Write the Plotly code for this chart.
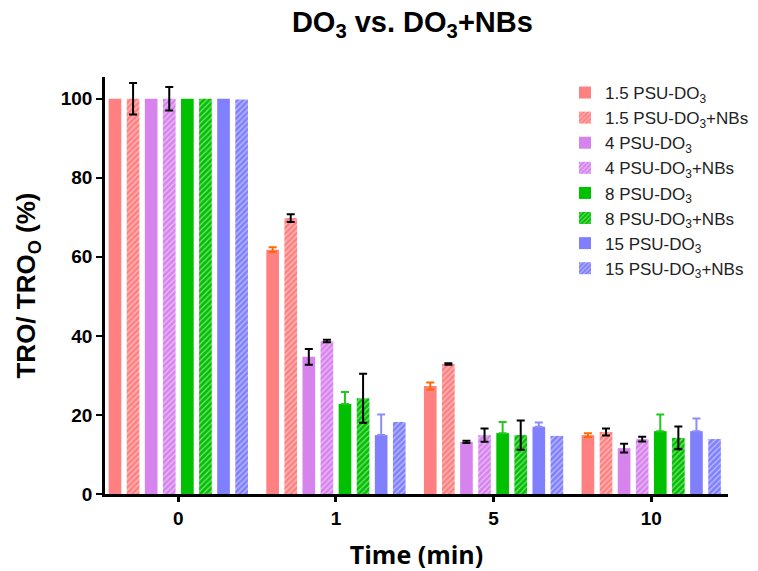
import numpy as np
import plotly.graph_objects as go

times = ["0", "1", "5", "10"]
x_pos = [0, 1, 2, 3]

names = [
    "1.5 PSU-DO<sub>3</sub>", "1.5 PSU-DO<sub>3</sub>+NBs",
    "4 PSU-DO<sub>3</sub>", "4 PSU-DO<sub>3</sub>+NBs",
    "8 PSU-DO<sub>3</sub>", "8 PSU-DO<sub>3</sub>+NBs",
    "15 PSU-DO<sub>3</sub>", "15 PSU-DO<sub>3</sub>+NBs",
]

# None = no error bar shown
psu15_do3 = [100, 61.8, 27.3, 14.9]
psu15_do3_err = [None, 0.6, 0.9, 0.5]
psu15_nbs = [100, 69.8, 32.9, 15.7]
psu15_nbs_err = [4.0, 1.0, 0.2, 0.9]

psu4_do3 = [100, 34.7, 13.2, 11.6]
psu4_do3_err = [None, 2.0, 0.3, 1.1]
psu4_nbs = [100, 38.7, 14.9, 13.9]
psu4_nbs_err = [3.0, 0.3, 1.7, 0.6]

psu8_do3 = [100, 22.8, 15.4, 15.9]
psu8_do3_err = [None, 3.0, 2.8, 4.2]
psu8_nbs = [100, 24.2, 14.9, 14.2]
psu8_nbs_err = [None, 6.2, 3.7, 2.9]

psu15b_do3 = [100, 14.9, 17.0, 15.9]
psu15b_do3_err = [None, 5.2, 1.1, 3.2]
psu15b_nbs = [99.8, 18.2, 14.7, 13.9]
psu15b_nbs_err = [None, None, None, None]

values = [psu15_do3, psu15_nbs, psu4_do3, psu4_nbs, psu8_do3, psu8_nbs, psu15b_do3, psu15b_nbs]
errors = [psu15_do3_err, psu15_nbs_err, psu4_do3_err, psu4_nbs_err,
          psu8_do3_err, psu8_nbs_err, psu15b_do3_err, psu15b_nbs_err]
colors = ["#FF8080", "#FF8080", "#D783EE", "#D783EE", "#00C000", "#00C000", "#8080FF", "#8080FF"]
hatched = [False, True, False, True, False, True, False, True]
err_colors = ["#FF6A00", "black", "black", "black", "#22C922", "black", "#8C8CFF", "black"]
upward_only = [False, False, False, False, True, False, True, False]

fig = go.Figure()
for i in range(8):
    marker = dict(color=colors[i], line=dict(width=0))
    if hatched[i]:
        marker["pattern"] = dict(shape="/", fgcolor="white", bgcolor=colors[i],
                                 size=4, solidity=0.3, fillmode="overlay")
    arr = np.array([np.nan if e is None else e for e in errors[i]], dtype=float)
    err = dict(type="data", array=arr, color=err_colors[i], thickness=2, width=4, visible=True)
    if upward_only[i]:
        err["symmetric"] = False
        err["arrayminus"] = np.where(np.isnan(arr), np.nan, 0.0)
    fig.add_trace(go.Bar(x=x_pos, y=values[i], name=names[i], marker=marker, error_y=err))

fig.update_layout(
    width=758, height=571,
    paper_bgcolor="white", plot_bgcolor="white",
    barmode="group", bargap=0.082, bargroupgap=0.30,
    margin=dict(l=105, r=30, t=77, b=77, autoexpand=False),
    title=dict(text="<b>DO<sub>3</sub> vs. DO<sub>3</sub>+NBs</b>", x=0.544, xanchor="center",
               y=0.9615, yanchor="middle", font=dict(family="Liberation Sans, Arial", size=29, color="black")),
    font=dict(family="Liberation Sans, Arial", color="black"),
    legend=dict(xref="container", yref="container", x=0.7454, y=0.8687,
                xanchor="left", yanchor="top", bgcolor="rgba(0,0,0,0)",
                font=dict(family="Liberation Sans, Arial", size=17, color="#222222"),
                tracegroupgap=0, itemwidth=30),
    showlegend=True,
)
fig.update_xaxes(
    range=[-0.465, 3.487], tickvals=x_pos, ticktext=["<b>%s</b>" % t for t in times],
    showline=True, linecolor="black", linewidth=3, ticks="outside", ticklen=5, tickwidth=2.5,
    tickcolor="black", tickfont=dict(family="Liberation Sans, Arial", size=19, color="black"),
    showgrid=False, zeroline=False, automargin=False,
    title=dict(text="<b>Time (min)</b>", font=dict(family="Open Sans", size=25, color="black"), standoff=20),
)
fig.update_yaxes(
    range=[0, 105.5], tickvals=[0, 20, 40, 60, 80, 100],
    ticktext=["<b>%d</b>" % v for v in [0, 20, 40, 60, 80, 100]],
    showline=True, linecolor="black", linewidth=2.5, ticks="outside", ticklen=6, tickwidth=2,
    tickcolor="black", tickfont=dict(family="Liberation Sans, Arial", size=19, color="black"),
    showgrid=False, zeroline=False, automargin=False,
    title=dict(text="<b>TRO/ TRO<sub>O</sub> (%)</b>", font=dict(family="Liberation Sans, Arial", size=26, color="black"), standoff=18),
)
fig.write_html("out.html", config={"displayModeBar": False},
               post_script="document.body.style.margin='0px';")
